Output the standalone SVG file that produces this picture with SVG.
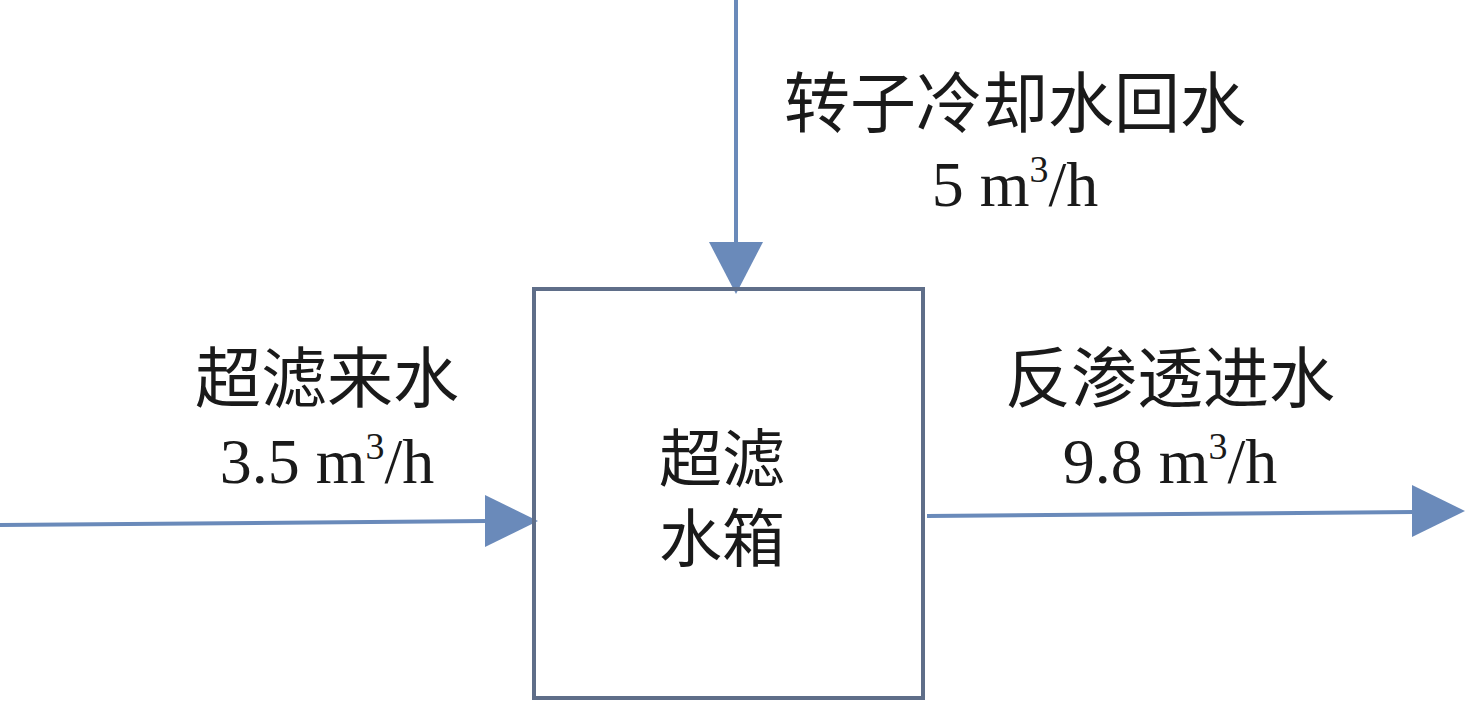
<svg xmlns="http://www.w3.org/2000/svg" width="1465" height="702" viewBox="0 0 1465 702">
<style>
.t{font-family:"Liberation Serif","Noto Sans CJK SC",serif;fill:#1a1a1a;text-anchor:middle}
.cn{font-size:66px}
.box{font-size:63px}
.num{font-size:64px}
.sup{font-size:38px}
.flow{stroke:#6a8aba;stroke-width:4;fill:none}
.head{fill:#6a8aba}
</style>
<rect width="1465" height="702" fill="#ffffff"/>
<g id="connectors">
  <g id="c-top">
    <line class="flow" x1="736" y1="0" x2="736" y2="244"/>
    <polygon class="head" points="709,242 763,242 736,294"/>
  </g>
  <g id="c-left">
    <line class="flow" x1="0" y1="525" x2="487" y2="521"/>
    <polygon class="head" points="485,495 485,547 538,521"/>
  </g>
  <g id="c-right">
    <line class="flow" x1="927" y1="516" x2="1414" y2="512"/>
    <polygon class="head" points="1412,485 1412,537 1465,511"/>
  </g>
</g>
<g id="tank">
  <rect x="534" y="289" width="389" height="409" fill="none" stroke="#5f6e89" stroke-width="4"/>
  <text class="t box" x="722" y="481">超滤</text>
  <text class="t box" x="722" y="561">水箱</text>
</g>
<g id="label-top">
  <text class="t cn" x="1015" y="127">转子冷却水回水</text>
  <text class="t num" x="1015" y="206">5 m<tspan class="sup" dy="-24">3</tspan><tspan dy="24">/h</tspan></text>
</g>
<g id="label-left">
  <text class="t cn" x="327" y="402">超滤来水</text>
  <text class="t num" x="327" y="483">3.5 m<tspan class="sup" dy="-24">3</tspan><tspan dy="24">/h</tspan></text>
</g>
<g id="label-right">
  <text class="t cn" x="1170" y="402">反渗透进水</text>
  <text class="t num" x="1170" y="483">9.8 m<tspan class="sup" dy="-24">3</tspan><tspan dy="24">/h</tspan></text>
</g>
</svg>
